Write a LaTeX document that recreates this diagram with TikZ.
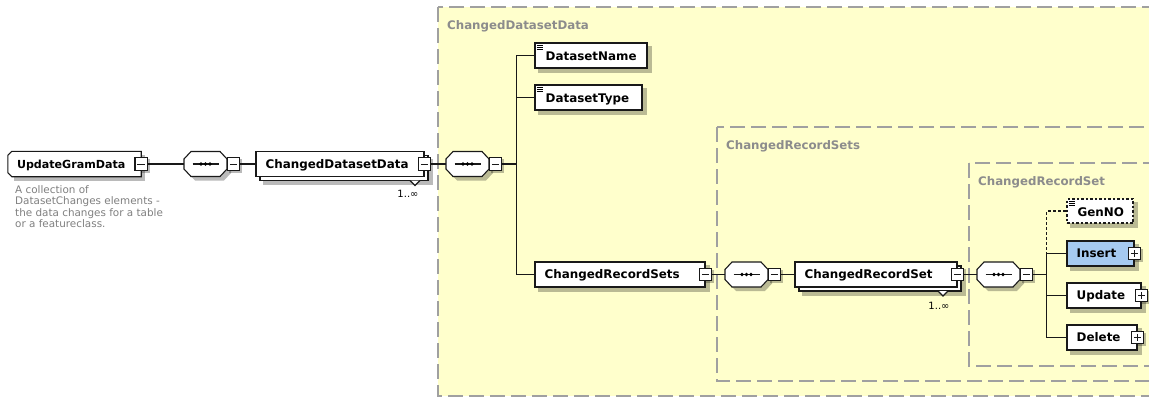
\documentclass[tikz,border=0pt]{standalone}
\usepackage{fontspec}
\setmainfont{DejaVu Sans}
\usetikzlibrary{calc}
\definecolor{regyel}{RGB}{255,255,204}
\definecolor{regline}{RGB}{160,160,160}
\definecolor{insblue}{RGB}{166,202,240}
\definecolor{titlegray}{RGB}{140,140,140}
\definecolor{descgray}{RGB}{128,128,128}
\pgfdeclarelayer{regions}
\pgfdeclarelayer{shadows}
\pgfsetlayers{regions,shadows,main}
\tikzset{
  ln/.style={line width=1.1pt, draw=black!90},
  region/.style={fill=regyel, draw=regline, line width=1.2pt, dash pattern=on 15pt off 6pt},
  rtitle/.style={anchor=base west, inner sep=0pt, text=titlegray, font=\fontsize{11.8}{14}\selectfont\bfseries},
  ebox/.style={ln, fill=white, minimum height=25pt, inner sep=0pt},
  lab/.style={anchor=base west, inner sep=0pt, font=\fontsize{11.9}{14}\selectfont\bfseries},
  seqn/.style={minimum width=43pt, minimum height=25pt, inner sep=0pt},
  minus/.style={ln, fill=white, minimum size=12.5pt, inner sep=0pt,
    path picture={\draw[line width=1pt] ([xshift=2.5pt]path picture bounding box.west) -- ([xshift=-2.5pt]path picture bounding box.east);}},
  plus/.style={ln, fill=white, minimum size=12.5pt, inner sep=0pt,
    path picture={\draw[line width=1pt] ([xshift=2.5pt]path picture bounding box.west) -- ([xshift=-2.5pt]path picture bounding box.east)
      ([yshift=-2.5pt]path picture bounding box.north) -- ([yshift=2.5pt]path picture bounding box.south);}},
  shadowc/.style={fill=black, opacity=0.27},
  mult/.style={inner sep=0pt, font=\fontsize{10}{12}\selectfont},
  optbox/.style={dash pattern=on 2.5pt off 2pt},
}
\newcommand\shad[2][4]{\begin{pgfonlayer}{shadows}\fill[shadowc] ($(#2.north west)+(#1,#1)$) rectangle ($(#2.south east)+(#1,#1)$);\end{pgfonlayer}}
% name, cx, cy, width, label, extra style
\newcommand\elem[6]{%
  \node[ebox, minimum width=#4pt, #6] (#1) at (#2,#3) {};
  \shad{#1}
  \node[lab] (#1t) at ($(#1.west)+(10,4.3)$) {#5};
}
% element with simple-content icon
\newcommand\elemi[6]{%
  \node[ebox, minimum width=#4pt, #6] (#1) at (#2,#3) {};
  \shad{#1}
  \draw[line width=0.7pt] ($(#1.north west)+(2.5,3)$) -- ++(6.5,0) ($(#1.north west)+(2.5,5)$) -- ++(6.5,0) ($(#1.north west)+(2.5,7)$) -- ++(6.5,0);
  \node[lab] (#1t) at ($(#1.west)+(11,5.2)$) {#5};
}
% stacked element: name, cx, cy, width, label
\newcommand\elems[5]{%
  \node[ebox, minimum width=#4pt] (#1b) at ({#2+4},{#3+4}) {};
  \shad{#1b}
  \node[ebox, minimum width=#4pt] (#1) at (#2,#3) {};
  \node[lab] (#1t) at ($(#1.west)+(10,4.3)$) {#5};
}
% sequence compositor: name, cx, cy
\newcommand\seqoct[3]{%
  \begin{pgfonlayer}{shadows}
  \fill[shadowc] ({#2+4-21.5},{#3+4-5}) -- ({#2+4-14.5},{#3+4-12.5}) -- ({#2+4+14.5},{#3+4-12.5}) -- ({#2+4+21.5},{#3+4-5})
     -- ({#2+4+21.5},{#3+4+5}) -- ({#2+4+14.5},{#3+4+12.5}) -- ({#2+4-14.5},{#3+4+12.5}) -- ({#2+4-21.5},{#3+4+5}) -- cycle;
  \end{pgfonlayer}
  \node[seqn] (#1) at (#2,#3) {};
  \draw[ln, fill=white] ({#2-21.5},{#3-5}) -- ({#2-14.5},{#3-12.5}) -- ({#2+14.5},{#3-12.5}) -- ({#2+21.5},{#3-5})
     -- ({#2+21.5},{#3+5}) -- ({#2+14.5},{#3+12.5}) -- ({#2-14.5},{#3+12.5}) -- ({#2-21.5},{#3+5}) -- cycle;
  \draw[ln] ({#2-13},#3) -- ({#2+13},#3);
  \fill[black] ({#2-4.5},#3) circle (1.8) (#2,#3) circle (1.8) ({#2+4.5},#3) circle (1.8);
  \node[minus] (#1m) at ({#2+28},#3) {};
  \shad[2]{#1m}
}
\begin{document}
\begin{tikzpicture}[x=1pt,y=-1pt]
\useasboundingbox (0,0) rectangle (1149,397);
\begin{pgfonlayer}{regions}
  \fill[white] (0,0) rectangle (1149,397);
  \path[region] (438,7) rectangle (1175,396);
  \path[region] (717,127) rectangle (1170,381);
  \path[region] (969,163) rectangle (1165,366);
\end{pgfonlayer}
\node[rtitle] (t1) at (447,29.3) {ChangedDatasetData};
\node[rtitle] (t2) at (726,149.3) {ChangedRecordSets};
\node[rtitle] (t3) at (978,185.3) {ChangedRecordSet};

% root element
\node[seqn, minimum width=133pt] (ugd) at (74.5,164) {};
\begin{pgfonlayer}{shadows}
  \fill[shadowc] ($(ugd.north west)+(6,4)$) rectangle ($(ugd.south east)+(4,4)$);
\end{pgfonlayer}
\draw[ln, fill=white] ($(ugd.north west)+(4,0)$) -- (ugd.north east) -- (ugd.south east) -- ($(ugd.south west)+(4,0)$)
  -- ($(ugd.south west)+(0,-4)$) -- ($(ugd.north west)+(0,4)$) -- cycle;
\node[lab, font=\fontsize{11.1}{14}\selectfont\bfseries] (ugdt) at ($(ugd.west)+(9,4.2)$) {UpdateGramData};
\node[minus] (ugdm) at (ugd.east) {};
\shad[2]{ugdm}
\node[anchor=north west, inner sep=0pt, align=left, text=descgray, font=\fontsize{10.4}{11.5}\selectfont] (desc) at (15,185)
  {A collection of\\DatasetChanges elements -\\the data changes for a table\\or a featureclass.};

\seqoct{s1}{205.5}{164}
\elems{cdd}{340}{164}{168}{ChangedDatasetData}
\node[minus] (cddm) at (cdd.east) {};
\draw[ln, fill=white] (410,180.5) -- (415,185.5) -- (420,180.5);
\node[mult] (cddn) at (408,194) {1..∞};

\seqoct{s2}{467.5}{164}
\elemi{dsn}{591}{55.5}{112}{DatasetName}{}
\elemi{dst}{588.5}{97.5}{107}{DatasetType}{}
\elem{crs}{620}{274.5}{170}{ChangedRecordSets}{}
\node[minus] (crsm) at (crs.east) {};
\shad[2]{crsm}

\seqoct{s3}{746.5}{274.5}
\elems{crset}{876}{274.5}{162}{ChangedRecordSet}
\node[minus] (crsetm) at (crset.east) {};
\draw[ln, fill=white] (938,291) -- (943,296) -- (948,291);
\node[mult] (crsetn) at (939,306) {1..∞};

\seqoct{s4}{998.5}{274.5}
\elemi{gen}{1100}{211}{66}{GenNO}{optbox, minimum height=24pt}
\elem{ins}{1100.5}{253.5}{67}{Insert}{fill=insblue}
\node[plus] (insp) at (ins.east) {};
\shad[2]{insp}
\elem{upd}{1104}{295.5}{74}{Update}{}
\node[plus] (updp) at (upd.east) {};
\shad[2]{updp}
\elem{del}{1102}{337.5}{70}{Delete}{}
\node[plus] (delp) at (del.east) {};
\shad[2]{delp}

% connectors
\draw[ln] (ugdm.east) -- (s1.west);
\draw[ln] (s1m.east) -- (cdd.west);
\draw[ln] (cddm.east) -- (s2.west);
\draw[ln] (s2m.east) -- ++(14.5,0) coordinate (b1);
\draw[ln] (b1) |- (dsn.west);
\draw[ln] (b1) |- (dst.west);
\draw[ln] (b1) |- (crs.west);
\draw[ln] (crsm.east) -- (s3.west);
\draw[ln] (s3m.east) -- (crset.west);
\draw[ln] (crsetm.east) -- (s4.west);
\draw[ln] (s4m.east) -- ++(13.5,0) coordinate (b2);
\draw[ln, dash pattern=on 3pt off 2pt] (b2) |- (gen.west);
\draw[ln] (b2) |- (ins.west);
\draw[ln] (b2) |- (upd.west);
\draw[ln] (b2) |- (del.west);
\end{tikzpicture}
\end{document}
